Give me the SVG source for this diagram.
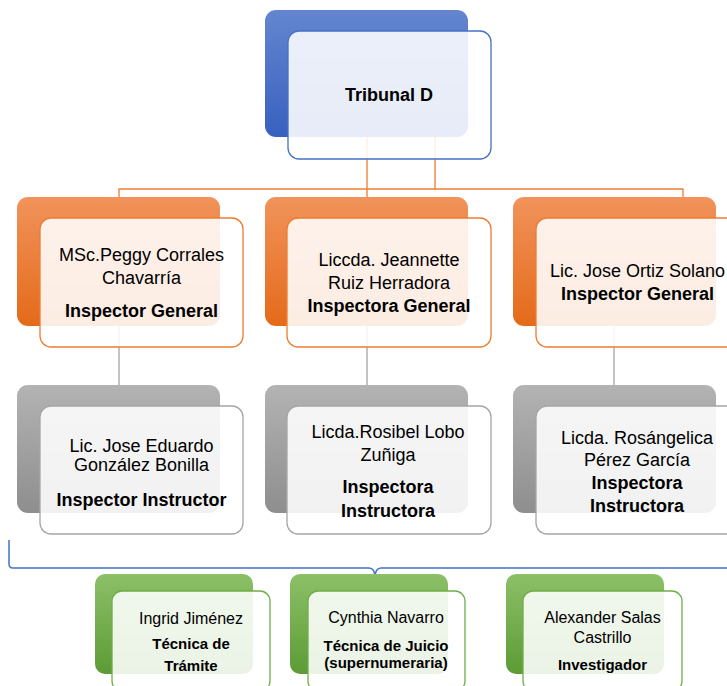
<svg xmlns="http://www.w3.org/2000/svg" width="727" height="686" viewBox="0 0 727 686">
<defs>
<linearGradient id="gBlue" x1="0" y1="0" x2="0" y2="1"><stop offset="0" stop-color="#6486d0"/><stop offset="1" stop-color="#3860bf"/></linearGradient>
<linearGradient id="gOrange" x1="0" y1="0" x2="0" y2="1"><stop offset="0" stop-color="#f1935b"/><stop offset="1" stop-color="#e46a1a"/></linearGradient>
<linearGradient id="gGrey" x1="0" y1="0" x2="0" y2="1"><stop offset="0" stop-color="#b3b3b3"/><stop offset="1" stop-color="#8e8e8e"/></linearGradient>
<linearGradient id="gGreen" x1="0" y1="0" x2="0" y2="1"><stop offset="0" stop-color="#8dc068"/><stop offset="1" stop-color="#5c9b36"/></linearGradient>
<style>
.f{fill:#fff;fill-opacity:0.88;stroke-width:1.3}
.fb{stroke:#4472c4}.fo{stroke:#ed7d31}.fg{stroke:#a5a5a5}.fn{stroke:#70ad47}
.t{font-family:"Liberation Sans",Arial,sans-serif;font-size:18px;fill:#000;text-anchor:middle}
.b{font-weight:bold}
.s{font-size:16px}
.sb{font-size:15px;font-weight:bold}
.co{stroke:#ed7d31;stroke-width:1.3;fill:none}
.cg{stroke:#a5a5a5;stroke-width:1.3;fill:none}
.cb{stroke:#4472c4;stroke-width:1.5;fill:none}
</style>
</defs>
<g id="connectors">
<path class="co" d="M367,137V197M435,137V189M119,197V189H683V197"/>
<path class="cg" d="M119,326V385M367,326V385M614,326V385"/>
<path class="cb" d="M9,540V564Q9,568 13,568H369Q375,568 375,578Q375,568 381,568H730"/>
</g>
<g id="root">
<rect x="265" y="10" width="203" height="127" rx="11" fill="url(#gBlue)"/>
<rect class="f fb" x="288" y="31" width="203" height="128" rx="11"/>
<text class="t b" x="389" y="101">Tribunal D</text>
</g>
<g id="ig1">
<rect x="17" y="197" width="203" height="129" rx="11" fill="url(#gOrange)"/>
<rect class="f fo" x="40" y="218" width="203" height="129" rx="11"/>
<text class="t" x="141.5" y="261">MSc.Peggy Corrales</text>
<text class="t" x="141.5" y="284">Chavarría</text>
<text class="t b" x="141.5" y="317">Inspector General</text>
</g>
<g id="ig2">
<rect x="265" y="197" width="203" height="129" rx="11" fill="url(#gOrange)"/>
<rect class="f fo" x="287" y="218" width="204" height="129" rx="11"/>
<text class="t" x="389" y="266">Liccda. Jeannette</text>
<text class="t" x="389" y="289">Ruiz Herradora</text>
<text class="t b" x="389" y="312">Inspectora General</text>
</g>
<g id="ig3">
<rect x="513" y="197" width="203" height="129" rx="11" fill="url(#gOrange)"/>
<rect class="f fo" x="536" y="218" width="203" height="129" rx="11"/>
<text class="t" x="637.5" y="277">Lic. Jose Ortiz Solano</text>
<text class="t b" x="637.5" y="300">Inspector General</text>
</g>
<g id="ii1">
<rect x="17" y="385" width="203" height="128" rx="11" fill="url(#gGrey)"/>
<rect class="f fg" x="40" y="406" width="203" height="128" rx="11"/>
<text class="t" x="141.5" y="452">Lic. Jose Eduardo</text>
<text class="t" x="141.5" y="471">González Bonilla</text>
<text class="t b" x="141.5" y="506">Inspector Instructor</text>
</g>
<g id="ii2">
<rect x="265" y="385" width="203" height="128" rx="11" fill="url(#gGrey)"/>
<rect class="f fg" x="287" y="406" width="204" height="128" rx="11"/>
<text class="t" x="388" y="438">Licda.Rosibel Lobo</text>
<text class="t" x="388" y="461">Zuñiga</text>
<text class="t b" x="388" y="493">Inspectora</text>
<text class="t b" x="388" y="517">Instructora</text>
</g>
<g id="ii3">
<rect x="513" y="385" width="203" height="128" rx="11" fill="url(#gGrey)"/>
<rect class="f fg" x="536" y="406" width="203" height="128" rx="11"/>
<text class="t" x="637" y="444">Licda. Rosángelica</text>
<text class="t" x="637" y="466">Pérez García</text>
<text class="t b" x="637" y="489">Inspectora</text>
<text class="t b" x="637" y="512">Instructora</text>
</g>
<g id="g1">
<rect x="95" y="574" width="158" height="100" rx="10" fill="url(#gGreen)"/>
<rect class="f fn" x="112" y="591" width="158" height="100" rx="10"/>
<text class="t s" x="191" y="624">Ingrid Jiménez</text>
<text class="t sb" x="191" y="649">Técnica de</text>
<text class="t sb" x="191" y="671">Trámite</text>
</g>
<g id="g2">
<rect x="290" y="574" width="158" height="100" rx="10" fill="url(#gGreen)"/>
<rect class="f fn" x="308" y="591" width="157" height="100" rx="10"/>
<text class="t s" x="386" y="623">Cynthia Navarro</text>
<text class="t sb" x="386" y="651">Técnica de Juicio</text>
<text class="t sb" x="386" y="668">(supernumeraria)</text>
</g>
<g id="g3">
<rect x="506" y="574" width="158" height="100" rx="10" fill="url(#gGreen)"/>
<rect class="f fn" x="523" y="591" width="159" height="100" rx="10"/>
<text class="t s" x="602.5" y="623">Alexander Salas</text>
<text class="t s" x="602.5" y="643">Castrillo</text>
<text class="t sb" x="602.5" y="670">Investigador</text>
</g>
</svg>
